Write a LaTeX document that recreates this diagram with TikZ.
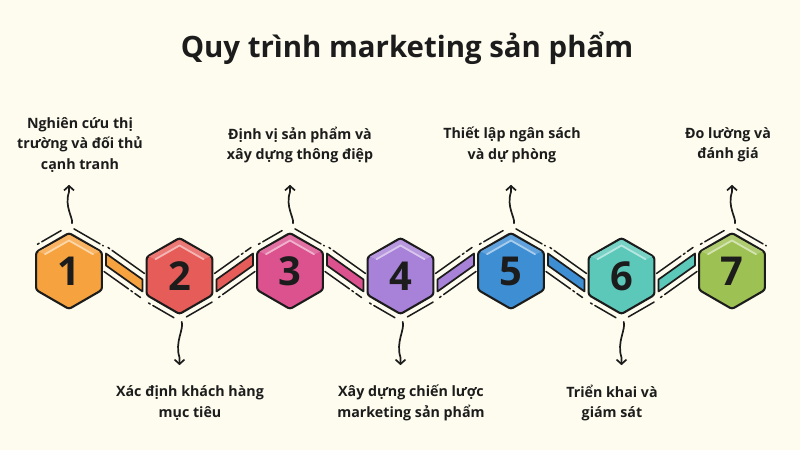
\documentclass[tikz,border=0pt]{standalone}
\usepackage{fontspec}
\setmainfont{Open Sans}
\usetikzlibrary{calc,arrows.meta}
\definecolor{bg}{HTML}{FEFCEE}
\definecolor{ink}{HTML}{1C1C1C}
\definecolor{c1}{HTML}{F6A33F}
\definecolor{c2}{HTML}{E65C58}
\definecolor{c3}{HTML}{DB528E}
\definecolor{c4}{HTML}{A881D8}
\definecolor{c5}{HTML}{3E8ED4}
\definecolor{c6}{HTML}{5CC8BA}
\definecolor{c7}{HTML}{9DC152}
\tikzset{
  hexshape/.style={draw=ink, line width=2.1bp, line join=round, rounded corners=2.5bp},
  numnode/.style={circle, minimum size=76bp, inner sep=0pt, font=\bfseries\fontsize{40}{40}\selectfont, text=ink},
  barshape/.style={draw=ink, line width=1.7bp, line join=round},
  sketch/.style={draw=ink, line width=1.5bp, line cap=round},
  sketchA/.style={sketch, dash pattern=on 2bp off 3bp on 60bp},
  sketchB/.style={sketch, dash pattern=on 30bp off 3bp on 2bp off 3bp on 20bp},
  squig/.style={to path={.. controls ($(\tikztostart)!0.3!(\tikztotarget)+(4.5bp,0)$) and ($(\tikztostart)!0.55!(\tikztotarget)+(-5bp,0)$) .. ($(\tikztostart)!0.85!(\tikztotarget)$) -- (\tikztotarget)}},
  squigarrow/.style={draw=ink, line width=1.7bp, line cap=round, -{Straight Barb[length=4.5bp,width=10bp]}},
  lab/.style={font=\bfseries\fontsize{14.3}{20.5}\selectfont, align=center, text=ink}
}
\begin{document}
\begin{tikzpicture}[x=1bp,y=1bp]
\fill[bg] (0,0) rectangle (800,450);
\useasboundingbox (0,0) rectangle (800,450);
\node[font=\bfseries\fontsize{29.5}{34}\selectfont, text=ink] (title) at (407,402) {Quy trình marketing sản phẩm};

\foreach \i/\x/\y/\c/\up in {1/69/179/c1/1, 2/179.5/174/c2/0, 3/290/179/c3/1, 4/400.5/174/c4/0, 5/511/179/c5/1, 6/621.5/174/c6/0, 7/732/179/c7/1}{
  \begin{scope}[shift={(\x,\y)}]
    \draw[hexshape, fill=\c] (90:38) -- (30:38) -- (-30:38) -- (-90:38) -- (-150:38) -- (150:38) -- cycle;
    \fill[\c!82!white] (-30.5,19.5) -- (0,36) -- (30.5,19.5) -- (24,16.5) -- (0,30.5) -- (-24,16.5) -- cycle;
    \draw[line width=1.8bp, \c!45!white, line cap=round, line join=round] (-24,16.8) -- (0,30.5) -- (24,16.8);
    \ifnum\up=1
      \draw[sketchA] (-31.6,26.7) -- (-7.9,40.4);
      \draw[sketchB] (5,42.1) -- (34.3,25.2);
    \else
      \draw[sketchA] (-31,-27) -- (-5.6,-41.7);
      \draw[sketchB] (6.9,-40.9) -- (32.6,-26.1);
    \fi
  \end{scope}
  \node[numnode] (h\i) at (\x,\y) {\i};
}

\foreach \i/\j/\c/\dn in {1/2/c1/1, 2/3/c2/0, 3/4/c3/1, 4/5/c4/0, 5/6/c5/1, 6/7/c6/0}{
  \ifnum\dn=1
    \draw[barshape, fill=\c] ($(h\i)+(37,17.5)$) -- ($(h\i)+(37,5.5)$) -- ($(h\j)+(-37,-15.5)$) -- ($(h\j)+(-37,-3.5)$) -- cycle;
    \draw[sketchA] ($(h\i)+(39,23.5)$) -- ($(h\j)+(-35,2.5)$);
    \draw[sketchB] ($(h\i)+(35,-0.5)$) -- ($(h\j)+(-39,-21.5)$);
  \else
    \draw[barshape, fill=\c] ($(h\i)+(37,-15.5)$) -- ($(h\i)+(37,-3.5)$) -- ($(h\j)+(-37,17.5)$) -- ($(h\j)+(-37,5.5)$) -- cycle;
    \draw[sketchB] ($(h\i)+(35,2.5)$) -- ($(h\j)+(-39,23.5)$);
    \draw[sketchA] ($(h\i)+(39,-21.5)$) -- ($(h\j)+(-35,-0.5)$);
  \fi
}

\node[lab] (t1) at (80,305) {Nghiên cứu thị\\trường và đối thủ\\cạnh tranh};
\node[lab] (t3) at (300,305) {Định vị sản phẩm và\\xây dựng thông điệp};
\node[lab] (t5) at (512,305) {Thiết lập ngân sách\\và dự phòng};
\node[lab] (t7) at (728,305) {Đo lường và\\đánh giá};
\node[lab] (t2) at (190,47) {Xác định khách hàng\\mục tiêu};
\node[lab] (t4) at (411,47) {Xây dựng chiến lược\\marketing sản phẩm};
\node[lab] (t6) at (612,47) {Triển khai và\\giám sát};

\foreach \i/\up in {1/1, 2/0, 3/1, 4/0, 5/1, 6/0, 7/1}{
  \ifnum\up=1
    \coordinate (e\i) at ([yshift=48bp]h\i.north);
    \draw[squigarrow, shorten <=10bp] (h\i.north) to[squig] (e\i);
  \else
    \coordinate (e\i) at ([yshift=-51bp]h\i.south);
    \draw[squigarrow, shorten <=8bp] (h\i.south) to[squig] (e\i);
  \fi
}
\end{tikzpicture}
\end{document}
